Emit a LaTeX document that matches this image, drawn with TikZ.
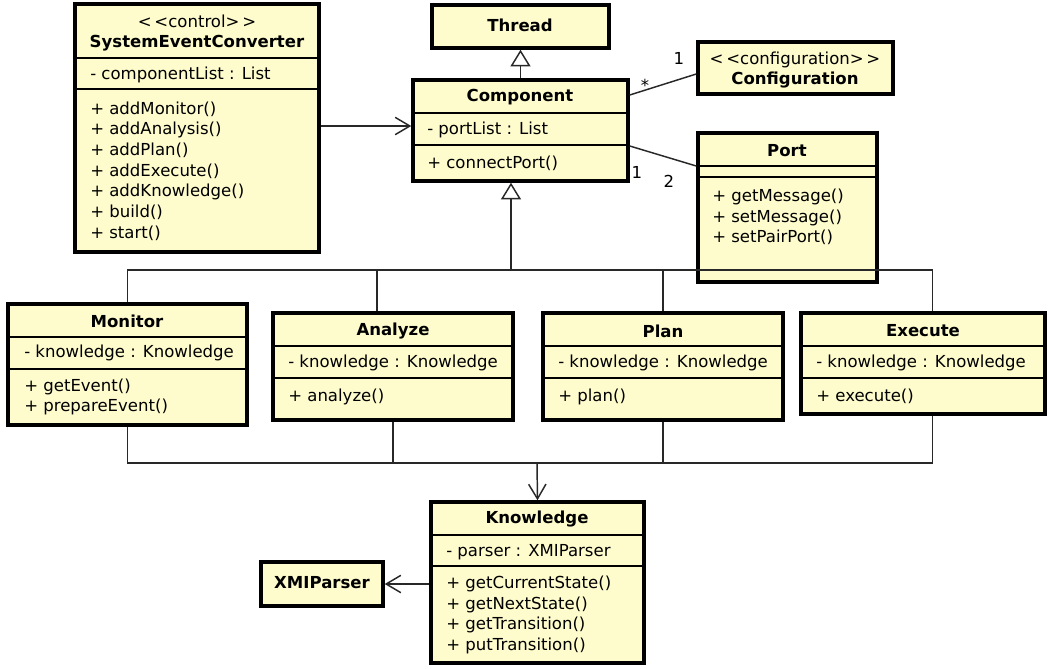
\documentclass[tikz,border=0pt]{standalone}
\usepackage{fontspec}
\setmainfont{DejaVu Sans}
\usetikzlibrary{fit,arrows.meta}
\definecolor{umlyellow}{RGB}{254,252,205}
\definecolor{umlline}{RGB}{40,40,40}

\begin{document}
\begin{tikzpicture}[x=0.75pt,y=-0.75pt,
    classbox/.style={draw=black,line width=2.6pt,fill=umlyellow,inner sep=0pt},
    divider/.style={draw=black,line width=1pt},
    classname/.style={font=\fontsize{12.4}{15.5}\selectfont\bfseries,inner sep=0pt,align=center},
    member/.style={font=\fontsize{12.4}{15.5}\selectfont,inner sep=0pt,anchor=west,align=left},
    mult/.style={font=\fontsize{12.4}{14}\selectfont,inner sep=0pt},
    link/.style={draw=umlline,line width=1.1pt},
    gen/.style={link,-{Triangle[open,length=12.5pt,width=15pt]}},
    nav/.style={link,-{Straight Barb[length=11pt,width=13pt]}}]
    \useasboundingbox (0,0) rectangle (1049,668);

    \begin{scope}[every node/.style={classbox}]
        \node[fit={(75,4) (319,252)}] (sec) {};
        \node[fit={(432,5) (609,48)}] (thread) {};
        \node[fit={(413,80) (628,181)}] (comp) {};
        \node[fit={(698,42) (893,94)}] (conf) {};
        \node[fit={(698,133) (877,282)}] (port) {};
        \node[fit={(8,304) (247,425)}] (mon) {};
        \node[fit={(273,313) (513,420)}] (ana) {};
        \node[fit={(543,313) (783,420)}] (plan) {};
        \node[fit={(801,313) (1045,414)}] (exe) {};
        \node[fit={(431,502) (644,663)}] (know) {};
        \node[fit={(261,562) (383,606)}] (xmi) {};
    \end{scope}

    \begin{scope}[every path/.style={divider}]
        \draw (sec.west |- 0,58) -- (sec.east |- 0,58);
        \draw (sec.west |- 0,89) -- (sec.east |- 0,89);
        \draw (comp.west |- 0,113) -- (comp.east |- 0,113);
        \draw (comp.west |- 0,145) -- (comp.east |- 0,145);
        \draw (port.west |- 0,166) -- (port.east |- 0,166);
        \draw (port.west |- 0,177) -- (port.east |- 0,177);
        \draw (mon.west |- 0,337) -- (mon.east |- 0,337);
        \draw (mon.west |- 0,369) -- (mon.east |- 0,369);
        \draw (ana.west |- 0,346) -- (ana.east |- 0,346);
        \draw (ana.west |- 0,378) -- (ana.east |- 0,378);
        \draw (plan.west |- 0,346) -- (plan.east |- 0,346);
        \draw (plan.west |- 0,378) -- (plan.east |- 0,378);
        \draw (exe.west |- 0,346) -- (exe.east |- 0,346);
        \draw (exe.west |- 0,378) -- (exe.east |- 0,378);
        \draw (know.west |- 0,535) -- (know.east |- 0,535);
        \draw (know.west |- 0,566) -- (know.east |- 0,566);
    \end{scope}

    \node[classname] (secname) at (197,33) {{\mdseries <\,<control>\,>}\\SystemEventConverter};
    \node[member] (secattr) at (90,75) {- componentList : List};
    \node[member] (secops) at (90,171) {+ addMonitor()\\+ addAnalysis()\\+ addPlan()\\+ addExecute()\\+ addKnowledge()\\+ build()\\+ start()};

    \node[classname] (threadname) at (520,25) {Thread};

    \node[classname] (compname) at (520,97) {Component};
    \node[member] (compattr) at (427,130) {- portList : List};
    \node[member] (compops) at (427,163) {+ connectPort()};

    \node[classname] (confname) at (795,70) {{\mdseries <\,<configuration>\,>}\\Configuration};

    \node[classname] (portname) at (787,151) {Port};
    \node[member] (portops) at (712,217) {+ getMessage()\\+ setMessage()\\+ setPairPort()};

    \node[classname] (monname) at (127,321) {Monitor};
    \node[member] (monattr) at (24,353) {- knowledge : Knowledge};
    \node[member] (monops) at (24,397) {+ getEvent()\\+ prepareEvent()};

    \node[classname] (ananame) at (393,331) {Analyze};
    \node[member] (anaattr) at (288,363) {- knowledge : Knowledge};
    \node[member] (anaops) at (288,397) {+ analyze()};

    \node[classname] (planname) at (663,331) {Plan};
    \node[member] (planattr) at (558,363) {- knowledge : Knowledge};
    \node[member] (planops) at (558,397) {+ plan()};

    \node[classname] (exename) at (923,331) {Execute};
    \node[member] (exeattr) at (816,363) {- knowledge : Knowledge};
    \node[member] (exeops) at (816,396) {+ execute()};

    \node[classname] (knowname) at (537,519) {Knowledge};
    \node[member] (knowattr) at (446,552) {- parser : XMIParser};
    \node[member] (knowops) at (446,615) {+ getCurrentState()\\+ getNextState()\\+ getTransition()\\+ putTransition()};

    \node[classname] (xminame) at (322,583) {XMIParser};

    \node[mult] (confmany) at (645,85) {*};
    \node[mult] (confone) at (679,58) {1};
    \node[mult] (portone) at (637,172) {1};
    \node[mult] (porttwo) at (669,181) {2};

    \coordinate (genbus) at (511,270);
    \coordinate (depbus) at (537,463);

    \draw[gen] (comp.north) -- (thread.south);
    \draw[link] (mon.north) |- (genbus);
    \draw[link] ([xshift=-12pt]ana.north) |- (genbus);
    \draw[link] (plan.north) |- (genbus);
    \draw[link] ([xshift=7pt]exe.north) |- (genbus);
    \draw[gen] (genbus) -- (genbus |- comp.south);

    \draw[link] (mon.south) |- (depbus);
    \draw[link] (ana.south) |- (depbus);
    \draw[link] (plan.south) |- (depbus);
    \draw[link] ([xshift=7pt]exe.south) |- (depbus);
    \draw[nav] (depbus) -- (know.north);

    \draw[nav] (sec.east |- 0,126) -- (comp.west |- 0,126);
    \draw[link] (comp.east |- 0,95) -- (conf.west |- 0,74);
    \draw[link] (comp.east |- 0,146) -- (port.west |- 0,166);
    \draw[nav] (know.west |- xmi.east) -- (xmi.east);
\end{tikzpicture}
\end{document}
